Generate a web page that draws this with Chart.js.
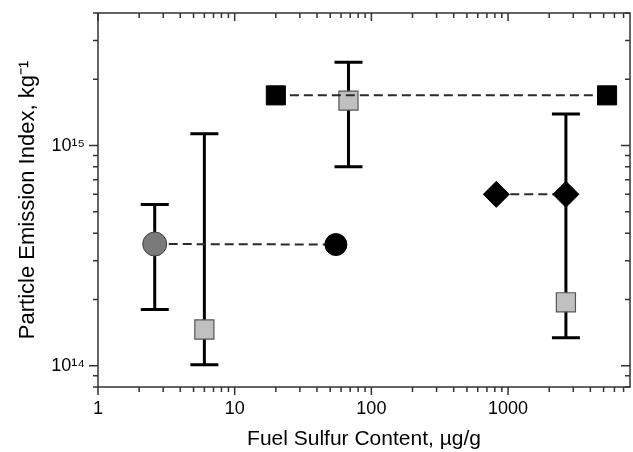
<!DOCTYPE html>
<html>
<head>
<meta charset="utf-8">
<script src="https://cdn.jsdelivr.net/npm/chart.js@4"></script>
<style>
  html, body { margin: 0; padding: 0; background: #fff; }
  #wrap { width: 633px; height: 452px; }
</style>
</head>
<body>
<div id="wrap"><canvas id="chart" width="633" height="452"></canvas></div>
<script>
// values
const circleX = [2.6, 55];
const circleY = [3.57e14, 3.55e14];
const circleLo = [1.8e14, null];
const circleHi = [5.4e14, null];

const squareX = [20, 5300];
const squareY = [1.69e15, 1.69e15];

const diamondX = [820, 2650];
const diamondY = [6.0e14, 6.0e14];

const grayX = [6, 68, 2650];
const grayY = [1.46e14, 1.6e15, 1.94e14];
const grayLo = [1.01e14, 8.0e14, 1.34e14];
const grayHi = [1.13e15, 2.39e15, 1.39e15];

const xMin = 1, xMax = 7800;
const yMin = 8e13, yMax = 4e15;

const FONT = "'Liberation Sans', Arial, sans-serif";
const SUP = { "0": "⁰", "1": "¹", "2": "²", "3": "³", "4": "⁴", "5": "⁵", "6": "⁶", "7": "⁷", "8": "⁸", "9": "⁹" };

function pts(xs, ys) {
  return xs.map((x, i) => ({ x: x, y: ys[i] }));
}

function isPow10(v) {
  const e = Math.log10(v);
  return Math.abs(e - Math.round(e)) < 1e-6;
}

function keepWholeMantissa(scale) {
  scale.ticks = scale.ticks.filter(t => {
    const m = t.value / Math.pow(10, Math.floor(Math.log10(t.value) + 1e-9));
    return Math.abs(m - Math.round(m)) < 1e-6;
  });
}

function noPadding(scale) {
  scale.paddingLeft = 0;
  scale.paddingRight = 0;
  scale.paddingTop = 0;
  scale.paddingBottom = 0;
}

// error bars under the markers
const errorBars = {
  id: "errorBars",
  beforeDatasetsDraw(chart) {
    const { ctx, scales } = chart;
    ctx.save();
    ctx.strokeStyle = "#000";
    ctx.lineWidth = 3;
    ctx.lineCap = "butt";
    chart.data.datasets.forEach(ds => {
      if (!ds.errLo) return;
      ds.data.forEach((p, i) => {
        if (ds.errLo[i] == null) return;
        const x = scales.x.getPixelForValue(p.x);
        const y1 = scales.y.getPixelForValue(ds.errLo[i]);
        const y2 = scales.y.getPixelForValue(ds.errHi[i]);
        ctx.beginPath();
        ctx.moveTo(x, y1);
        ctx.lineTo(x, y2);
        ctx.moveTo(x - 14, y1);
        ctx.lineTo(x + 14, y1);
        ctx.moveTo(x - 14, y2);
        ctx.lineTo(x + 14, y2);
        ctx.stroke();
      });
    });
    ctx.restore();
  }
};

// box round the plot with tick marks
const frame = {
  id: "frame",
  afterDraw(chart) {
    const { ctx, chartArea: a, scales } = chart;
    ctx.save();
    ctx.strokeStyle = "#333";
    ctx.lineWidth = 1.5;
    ctx.strokeRect(a.left, a.top, a.right - a.left, a.bottom - a.top);
    ctx.beginPath();
    scales.x.ticks.forEach(t => {
      const x = scales.x.getPixelForValue(t.value);
      if (x < a.left - 0.5 || x > a.right + 0.5) return;
      const len = isPow10(t.value) ? 8 : 5;
      ctx.moveTo(x, a.bottom);
      ctx.lineTo(x, a.bottom + len);
      ctx.moveTo(x, a.top);
      ctx.lineTo(x, a.top + len);
    });
    scales.y.ticks.forEach(t => {
      const y = scales.y.getPixelForValue(t.value);
      if (y < a.top - 0.5 || y > a.bottom + 0.5) return;
      const len = isPow10(t.value) ? 9 : 5;
      ctx.moveTo(a.left, y);
      ctx.lineTo(a.left - len, y);
      ctx.moveTo(a.right, y);
      ctx.lineTo(a.right - len, y);
    });
    ctx.stroke();
    ctx.restore();
  }
};

const dashed = {
  showLine: true,
  borderColor: "#2a2a2a",
  borderWidth: 2,
  borderDash: [9, 5],
  pointBorderWidth: 1
};

new Chart(document.getElementById("chart"), {
  type: "scatter",
  data: {
    datasets: [
      Object.assign({}, dashed, {
        label: "circles",
        data: pts(circleX, circleY),
        pointStyle: "circle",
        pointRadius: [12, 11],
        pointBackgroundColor: ["#7a7a7a", "#000"],
        pointBorderColor: ["#404040", "#000"],
        errLo: circleLo,
        errHi: circleHi
      }),
      Object.assign({}, dashed, {
        label: "black squares",
        data: pts(squareX, squareY),
        pointStyle: "rect",
        pointRadius: 13.5,
        pointBackgroundColor: "#000",
        pointBorderColor: "#000"
      }),
      Object.assign({}, dashed, {
        label: "diamonds",
        data: pts(diamondX, diamondY),
        pointStyle: "rectRot",
        pointRadius: 13,
        pointBackgroundColor: "#000",
        pointBorderColor: "#000"
      }),
      {
        label: "gray squares",
        data: pts(grayX, grayY),
        showLine: false,
        pointStyle: "rect",
        pointRadius: 13.5,
        pointBorderWidth: 1.2,
        pointBackgroundColor: "#c0c0c0",
        pointBorderColor: "#555",
        errLo: grayLo,
        errHi: grayHi
      }
    ]
  },
  options: {
    responsive: false,
    animation: false,
    events: [],
    layout: { autoPadding: false, padding: { top: 13, right: 3, left: 0, bottom: 0 } },
    plugins: {
      legend: { display: false },
      tooltip: { enabled: false }
    },
    scales: {
      x: {
        type: "logarithmic",
        min: xMin,
        max: xMax,
        afterBuildTicks: keepWholeMantissa,
        afterFit(scale) { scale.height = 65; noPadding(scale); },
        grid: { display: false, drawTicks: false },
        border: { display: false },
        ticks: {
          autoSkip: false,
          maxRotation: 0,
          padding: 11,
          color: "#000",
          font: { family: FONT, size: 18 },
          callback: v => (isPow10(v) ? String(Math.round(v)) : "")
        },
        title: {
          display: true,
          text: "Fuel Sulfur Content, µg/g",
          color: "#000",
          font: { family: FONT, size: 21 },
          padding: { top: 4, bottom: 0 }
        }
      },
      y: {
        type: "logarithmic",
        min: yMin,
        max: yMax,
        afterBuildTicks: keepWholeMantissa,
        afterFit(scale) { scale.width = 98; noPadding(scale); },
        grid: { display: false, drawTicks: false },
        border: { display: false },
        ticks: {
          autoSkip: false,
          padding: 13,
          color: "#000",
          font: { family: FONT, size: 18 },
          callback: v => {
            if (!isPow10(v)) return "";
            const e = String(Math.round(Math.log10(v)));
            return "10" + e.split("").map(c => SUP[c]).join("");
          }
        },
        title: {
          display: true,
          text: "Particle Emission Index, kg⁻¹",
          color: "#000",
          font: { family: FONT, size: 22 },
          padding: { top: 15, bottom: 0 }
        }
      }
    }
  },
  plugins: [errorBars, frame]
});
</script>
</body>
</html>
